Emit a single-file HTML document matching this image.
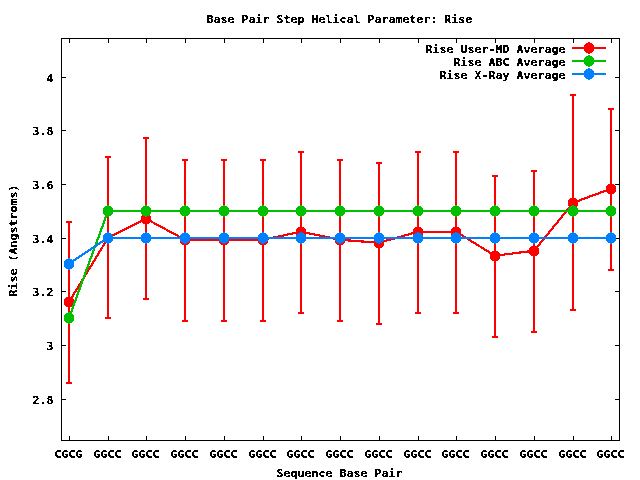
<!DOCTYPE html>
<html lang="en">
<head>
<meta charset="utf-8">
<title>Base Pair Step Helical Parameter: Rise</title>
<style>
html,body{margin:0;padding:0;background:#fff;width:640px;height:480px;overflow:hidden}
svg{display:block;position:absolute;left:0;top:0}
text{font-family:"DejaVu Sans Mono", "Liberation Mono", monospace;font-weight:bold;font-size:10.8px;letter-spacing:0.0399px;fill:#000;stroke:#000;stroke-width:0.3;stroke-linejoin:miter;white-space:pre}
.ax{fill:#000;shape-rendering:crispEdges}
.r{stroke:#ff0000;fill:none;stroke-width:2;shape-rendering:crispEdges}
.g{stroke:#00c000;fill:none;stroke-width:2;shape-rendering:crispEdges}
.b{stroke:#0080ff;fill:none;stroke-width:2;shape-rendering:crispEdges}
.eb{fill:#ff0000;shape-rendering:crispEdges}
</style>
</head>
<body>
<svg width="640" height="480" viewBox="0 0 640 480">
<defs><filter id="px" x="0" y="0" width="640" height="480" filterUnits="userSpaceOnUse" color-interpolation-filters="sRGB"><feComponentTransfer><feFuncA type="discrete" tableValues="0 0 0 1 1"/></feComponentTransfer></filter></defs>
<rect x="0" y="0" width="640" height="480" fill="#ffffff"/>
<g filter="url(#px)">
<path class="ax" d="M61 38H620V39H61ZM61 440H620V441H61ZM61 38H62V441H61ZM619 38H620V441H619ZM69 436H70V441H69ZM69 38H70V43H69ZM108 436H109V441H108ZM108 38H109V43H108ZM146 436H147V441H146ZM146 38H147V43H146ZM185 436H186V441H185ZM185 38H186V43H185ZM224 436H225V441H224ZM224 38H225V43H224ZM263 436H264V441H263ZM263 38H264V43H263ZM301 436H302V441H301ZM301 38H302V43H301ZM340 436H341V441H340ZM340 38H341V43H340ZM379 436H380V441H379ZM379 38H380V43H379ZM418 436H419V441H418ZM418 38H419V43H418ZM456 436H457V441H456ZM456 38H457V43H456ZM495 436H496V441H495ZM495 38H496V43H495ZM534 436H535V441H534ZM534 38H535V43H534ZM573 436H574V441H573ZM573 38H574V43H573ZM611 436H612V441H611ZM611 38H612V43H611ZM61 399H66V400H61ZM615 399H620V400H615ZM61 345H66V346H61ZM615 345H620V346H615ZM61 291H66V292H61ZM615 291H620V292H615ZM61 238H66V239H61ZM615 238H620V239H615ZM61 184H66V185H61ZM615 184H620V185H615ZM61 130H66V131H61ZM615 130H620V131H615ZM61 77H66V78H61ZM615 77H620V78H615Z"/>
<text transform="translate(32.60 403.85) scale(1.07 1)">2.8</text>
<text transform="translate(46.60 349.85) scale(1.07 1)">3</text>
<text transform="translate(32.60 295.85) scale(1.07 1)">3.2</text>
<text transform="translate(32.60 242.85) scale(1.07 1)">3.4</text>
<text transform="translate(32.60 188.85) scale(1.07 1)">3.6</text>
<text transform="translate(32.60 134.85) scale(1.07 1)">3.8</text>
<text transform="translate(46.60 81.85) scale(1.07 1)">4</text>
<text transform="translate(54.60 457.85) scale(1.07 1)">CGCG</text>
<text transform="translate(93.60 457.85) scale(1.07 1)">GGCC</text>
<text transform="translate(131.60 457.85) scale(1.07 1)">GGCC</text>
<text transform="translate(170.60 457.85) scale(1.07 1)">GGCC</text>
<text transform="translate(209.60 457.85) scale(1.07 1)">GGCC</text>
<text transform="translate(248.60 457.85) scale(1.07 1)">GGCC</text>
<text transform="translate(286.60 457.85) scale(1.07 1)">GGCC</text>
<text transform="translate(325.60 457.85) scale(1.07 1)">GGCC</text>
<text transform="translate(364.60 457.85) scale(1.07 1)">GGCC</text>
<text transform="translate(403.60 457.85) scale(1.07 1)">GGCC</text>
<text transform="translate(441.60 457.85) scale(1.07 1)">GGCC</text>
<text transform="translate(480.60 457.85) scale(1.07 1)">GGCC</text>
<text transform="translate(519.60 457.85) scale(1.07 1)">GGCC</text>
<text transform="translate(558.60 457.85) scale(1.07 1)">GGCC</text>
<text transform="translate(596.60 457.85) scale(1.07 1)">GGCC</text>
<text transform="translate(206.60 22.85) scale(1.07 1)">Base Pair Step Helical Parameter: Rise</text>
<text transform="translate(276.60 476.85) scale(1.07 1)">Sequence Base Pair</text>
<text transform="translate(16.85 296.40) rotate(-90) scale(1.07 1)">Rise (Angstroms)</text>
<text transform="translate(425.60 52.85) scale(1.07 1)">Rise User-MD Average</text>
<text transform="translate(453.60 65.85) scale(1.07 1)">Rise ABC Average</text>
<text transform="translate(439.60 78.85) scale(1.07 1)">Rise X-Ray Average</text>
</g>
<path class="eb" d="M68 221H70V384H68ZM66 221H72V223H66ZM66 382H72V384H66ZM107 156H109V319H107ZM105 156H111V158H105ZM105 317H111V319H105ZM145 137H147V300H145ZM143 137H149V139H143ZM143 298H149V300H143ZM184 159H186V322H184ZM182 159H188V161H182ZM182 320H188V322H182ZM223 159H225V322H223ZM221 159H227V161H221ZM221 320H227V322H221ZM262 159H264V322H262ZM260 159H266V161H260ZM260 320H266V322H260ZM300 151H302V314H300ZM298 151H304V153H298ZM298 312H304V314H298ZM339 159H341V322H339ZM337 159H343V161H337ZM337 320H343V322H337ZM378 162H380V325H378ZM376 162H382V164H376ZM376 323H382V325H376ZM417 151H419V314H417ZM415 151H421V153H415ZM415 312H421V314H415ZM455 151H457V314H455ZM453 151H459V153H453ZM453 312H459V314H453ZM494 175H496V338H494ZM492 175H498V177H492ZM492 336H498V338H492ZM533 170H535V333H533ZM531 170H537V172H531ZM531 331H537V333H531ZM572 94H574V311H572ZM570 94H576V96H570ZM570 309H576V311H570ZM610 108H612V271H610ZM608 108H614V110H608ZM608 269H614V271H608Z"/>
<path class="r" d="M572 48 H606"/>
<path class="r" d="M185 240H224M224 240H263M418 232H456"/>
<path class="r" stroke-width="2.2" style="stroke-width:2.2" d="M69 302L108 238M108 237.75L146 218.75M146 218.75L185 239.75M263 239.75L301 231.75M301 231.75L340 239.75M340 239.75L379 242.75M379 242.75L418 231.75M456 231.75L495 255.75M495 255.75L534 250.75M534 251L573 203M573 202.75L611 188.75"/>
<path fill="#ff0000" shape-rendering="crispEdges" d="M588 42h2v1h2v1h1v1h1v6h-1v1h-1v1h-2v1h-2v-1h-2v-1h-1v-1h-1v-6h1v-1h1v-1h2zM68 296h2v1h2v1h1v1h1v6h-1v1h-1v1h-2v1h-2v-1h-2v-1h-1v-1h-1v-6h1v-1h1v-1h2zM107 232h2v1h2v1h1v1h1v6h-1v1h-1v1h-2v1h-2v-1h-2v-1h-1v-1h-1v-6h1v-1h1v-1h2zM145 213h2v1h2v1h1v1h1v6h-1v1h-1v1h-2v1h-2v-1h-2v-1h-1v-1h-1v-6h1v-1h1v-1h2zM184 234h2v1h2v1h1v1h1v6h-1v1h-1v1h-2v1h-2v-1h-2v-1h-1v-1h-1v-6h1v-1h1v-1h2zM223 234h2v1h2v1h1v1h1v6h-1v1h-1v1h-2v1h-2v-1h-2v-1h-1v-1h-1v-6h1v-1h1v-1h2zM262 234h2v1h2v1h1v1h1v6h-1v1h-1v1h-2v1h-2v-1h-2v-1h-1v-1h-1v-6h1v-1h1v-1h2zM300 226h2v1h2v1h1v1h1v6h-1v1h-1v1h-2v1h-2v-1h-2v-1h-1v-1h-1v-6h1v-1h1v-1h2zM339 234h2v1h2v1h1v1h1v6h-1v1h-1v1h-2v1h-2v-1h-2v-1h-1v-1h-1v-6h1v-1h1v-1h2zM378 237h2v1h2v1h1v1h1v6h-1v1h-1v1h-2v1h-2v-1h-2v-1h-1v-1h-1v-6h1v-1h1v-1h2zM417 226h2v1h2v1h1v1h1v6h-1v1h-1v1h-2v1h-2v-1h-2v-1h-1v-1h-1v-6h1v-1h1v-1h2zM455 226h2v1h2v1h1v1h1v6h-1v1h-1v1h-2v1h-2v-1h-2v-1h-1v-1h-1v-6h1v-1h1v-1h2zM494 250h2v1h2v1h1v1h1v6h-1v1h-1v1h-2v1h-2v-1h-2v-1h-1v-1h-1v-6h1v-1h1v-1h2zM533 245h2v1h2v1h1v1h1v6h-1v1h-1v1h-2v1h-2v-1h-2v-1h-1v-1h-1v-6h1v-1h1v-1h2zM572 197h2v1h2v1h1v1h1v6h-1v1h-1v1h-2v1h-2v-1h-2v-1h-1v-1h-1v-6h1v-1h1v-1h2zM610 183h2v1h2v1h1v1h1v6h-1v1h-1v1h-2v1h-2v-1h-2v-1h-1v-1h-1v-6h1v-1h1v-1h2z"/>
<path class="g" d="M572 61 H606"/>
<path class="g" d="M108 211H146M146 211H185M185 211H224M224 211H263M263 211H301M301 211H340M340 211H379M379 211H418M418 211H456M456 211H495M495 211H534M534 211H573M573 211H611"/>
<path class="g" stroke-width="2.2" style="stroke-width:2.2" d="M69 318L108 211"/>
<path fill="#00c000" shape-rendering="crispEdges" d="M588 55h2v1h2v1h1v1h1v6h-1v1h-1v1h-2v1h-2v-1h-2v-1h-1v-1h-1v-6h1v-1h1v-1h2zM68 312h2v1h2v1h1v1h1v6h-1v1h-1v1h-2v1h-2v-1h-2v-1h-1v-1h-1v-6h1v-1h1v-1h2zM107 205h2v1h2v1h1v1h1v6h-1v1h-1v1h-2v1h-2v-1h-2v-1h-1v-1h-1v-6h1v-1h1v-1h2zM145 205h2v1h2v1h1v1h1v6h-1v1h-1v1h-2v1h-2v-1h-2v-1h-1v-1h-1v-6h1v-1h1v-1h2zM184 205h2v1h2v1h1v1h1v6h-1v1h-1v1h-2v1h-2v-1h-2v-1h-1v-1h-1v-6h1v-1h1v-1h2zM223 205h2v1h2v1h1v1h1v6h-1v1h-1v1h-2v1h-2v-1h-2v-1h-1v-1h-1v-6h1v-1h1v-1h2zM262 205h2v1h2v1h1v1h1v6h-1v1h-1v1h-2v1h-2v-1h-2v-1h-1v-1h-1v-6h1v-1h1v-1h2zM300 205h2v1h2v1h1v1h1v6h-1v1h-1v1h-2v1h-2v-1h-2v-1h-1v-1h-1v-6h1v-1h1v-1h2zM339 205h2v1h2v1h1v1h1v6h-1v1h-1v1h-2v1h-2v-1h-2v-1h-1v-1h-1v-6h1v-1h1v-1h2zM378 205h2v1h2v1h1v1h1v6h-1v1h-1v1h-2v1h-2v-1h-2v-1h-1v-1h-1v-6h1v-1h1v-1h2zM417 205h2v1h2v1h1v1h1v6h-1v1h-1v1h-2v1h-2v-1h-2v-1h-1v-1h-1v-6h1v-1h1v-1h2zM455 205h2v1h2v1h1v1h1v6h-1v1h-1v1h-2v1h-2v-1h-2v-1h-1v-1h-1v-6h1v-1h1v-1h2zM494 205h2v1h2v1h1v1h1v6h-1v1h-1v1h-2v1h-2v-1h-2v-1h-1v-1h-1v-6h1v-1h1v-1h2zM533 205h2v1h2v1h1v1h1v6h-1v1h-1v1h-2v1h-2v-1h-2v-1h-1v-1h-1v-6h1v-1h1v-1h2zM572 205h2v1h2v1h1v1h1v6h-1v1h-1v1h-2v1h-2v-1h-2v-1h-1v-1h-1v-6h1v-1h1v-1h2zM610 205h2v1h2v1h1v1h1v6h-1v1h-1v1h-2v1h-2v-1h-2v-1h-1v-1h-1v-6h1v-1h1v-1h2z"/>
<path class="b" d="M572 74 H606"/>
<path class="b" d="M108 238H146M146 238H185M185 238H224M224 238H263M263 238H301M301 238H340M340 238H379M379 238H418M418 238H456M456 238H495M495 238H534M534 238H573M573 238H611"/>
<path class="b" stroke-width="2.2" style="stroke-width:2.2" d="M69 263.75L108 237.75"/>
<path fill="#0080ff" shape-rendering="crispEdges" d="M588 68h2v1h2v1h1v1h1v6h-1v1h-1v1h-2v1h-2v-1h-2v-1h-1v-1h-1v-6h1v-1h1v-1h2zM68 258h2v1h2v1h1v1h1v6h-1v1h-1v1h-2v1h-2v-1h-2v-1h-1v-1h-1v-6h1v-1h1v-1h2zM107 232h2v1h2v1h1v1h1v6h-1v1h-1v1h-2v1h-2v-1h-2v-1h-1v-1h-1v-6h1v-1h1v-1h2zM145 232h2v1h2v1h1v1h1v6h-1v1h-1v1h-2v1h-2v-1h-2v-1h-1v-1h-1v-6h1v-1h1v-1h2zM184 232h2v1h2v1h1v1h1v6h-1v1h-1v1h-2v1h-2v-1h-2v-1h-1v-1h-1v-6h1v-1h1v-1h2zM223 232h2v1h2v1h1v1h1v6h-1v1h-1v1h-2v1h-2v-1h-2v-1h-1v-1h-1v-6h1v-1h1v-1h2zM262 232h2v1h2v1h1v1h1v6h-1v1h-1v1h-2v1h-2v-1h-2v-1h-1v-1h-1v-6h1v-1h1v-1h2zM300 232h2v1h2v1h1v1h1v6h-1v1h-1v1h-2v1h-2v-1h-2v-1h-1v-1h-1v-6h1v-1h1v-1h2zM339 232h2v1h2v1h1v1h1v6h-1v1h-1v1h-2v1h-2v-1h-2v-1h-1v-1h-1v-6h1v-1h1v-1h2zM378 232h2v1h2v1h1v1h1v6h-1v1h-1v1h-2v1h-2v-1h-2v-1h-1v-1h-1v-6h1v-1h1v-1h2zM417 232h2v1h2v1h1v1h1v6h-1v1h-1v1h-2v1h-2v-1h-2v-1h-1v-1h-1v-6h1v-1h1v-1h2zM455 232h2v1h2v1h1v1h1v6h-1v1h-1v1h-2v1h-2v-1h-2v-1h-1v-1h-1v-6h1v-1h1v-1h2zM494 232h2v1h2v1h1v1h1v6h-1v1h-1v1h-2v1h-2v-1h-2v-1h-1v-1h-1v-6h1v-1h1v-1h2zM533 232h2v1h2v1h1v1h1v6h-1v1h-1v1h-2v1h-2v-1h-2v-1h-1v-1h-1v-6h1v-1h1v-1h2zM572 232h2v1h2v1h1v1h1v6h-1v1h-1v1h-2v1h-2v-1h-2v-1h-1v-1h-1v-6h1v-1h1v-1h2zM610 232h2v1h2v1h1v1h1v6h-1v1h-1v1h-2v1h-2v-1h-2v-1h-1v-1h-1v-6h1v-1h1v-1h2z"/>
</svg>
</body>
</html>
